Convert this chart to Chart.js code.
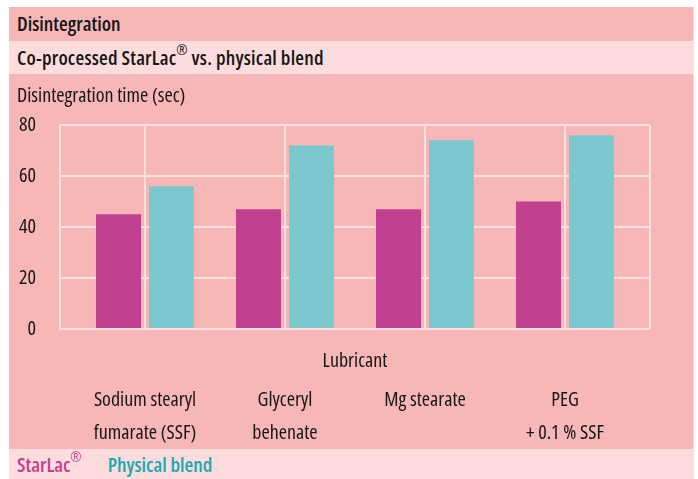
<!DOCTYPE html>
<html>
<head>
<meta charset="utf-8">
<script src="https://cdn.jsdelivr.net/npm/chart.js@4/dist/chart.umd.min.js"></script>
<style>
html,body{margin:0;padding:0;background:#ffffff;width:698px;height:479px;overflow:hidden;}
#wrap{position:absolute;left:9px;top:7px;width:684px;height:472px;background:#f7b7b7;border-right:1px solid #fcdcdc;
  font-family:'Open Sans',sans-serif;font-stretch:condensed;color:#161616;}
.band{position:absolute;left:0;width:684px;box-sizing:border-box;padding-left:8px;white-space:nowrap;}
#b1{top:0;height:34px;line-height:34px;font-size:20px;font-weight:600;background:#f7b7b7;}
#b2{top:34px;height:33px;line-height:33px;font-size:20px;font-weight:600;letter-spacing:0.2px;background:#fcdcdd;}
#ytitle{top:76px;height:24px;line-height:24px;font-size:20px;}
#leg{top:442px;height:30px;line-height:31px;font-size:20px;font-weight:600;background:#fcdcdd;}
#leg span{margin-right:26px;}
sup{font-size:68%;line-height:0;position:relative;top:-2px;font-weight:400;}
canvas{position:absolute;left:0;top:67px;}
</style>
</head>
<body>
<div id="wrap">
  <div class="band" id="b1">Disintegration</div>
  <div class="band" id="b2">Co-processed StarLac<sup>®</sup> vs. physical blend</div>
  <canvas id="c" width="684" height="375"></canvas>
  <div class="band" id="ytitle"></div>
  <div class="band" id="leg"></div>
</div>
<script>
// ---- data ----
const categories = [
  ['Sodium stearyl', 'fumarate (SSF)'],
  ['Glyceryl', 'behenate'],
  ['Mg stearate'],
  ['PEG', '+ 0.1 % SSF']
];
const seriesNames = ['StarLac®', 'Physical blend'];
const starlacValues = [45, 47, 47, 50];
const physicalBlendValues = [56, 72, 74, 76];
const yTicks = [0, 20, 40, 60, 80];
const yTitle = 'Disintegration time (sec)';
const xTitle = 'Lubricant';

// ---- styles ----
const barColors = ['#c24090', '#7bc8cf'];
const legendColors = ['#c24090', '#19a9b4'];
const FAMILY = "'Open Sans', sans-serif";
const TEXT = '#161616';
const gridColor = '#fde1e1';
const xMin = -0.607, xMax = categories.length - 1 + 0.607;

document.getElementById('ytitle').textContent = yTitle;
const leg = document.getElementById('leg');
seriesNames.forEach((n, i) => {
  const s = document.createElement('span');
  s.style.color = legendColors[i];
  s.innerHTML = n.replace('®', '<sup>®</sup>');
  leg.appendChild(s);
});

const toPoints = vals => vals.map((v, i) => ({x: i, y: v}));
const font = (extra) => Object.assign({family: FAMILY, size: 20, weight: 'condensed', lineHeight: 1.2}, extra || {});

new Chart(document.getElementById('c'), {
  type: 'bar',
  data: {
    datasets: [
      {label: seriesNames[0], data: toPoints(starlacValues), backgroundColor: barColors[0], borderWidth: 0, xAxisID: 'x'},
      {label: seriesNames[1], data: toPoints(physicalBlendValues), backgroundColor: barColors[1], borderWidth: 0, xAxisID: 'x'}
    ]
  },
  options: {
    responsive: false,
    animation: false,
    devicePixelRatio: 1,
    categoryPercentage: 0.757,
    barPercentage: 0.849,
    layout: {padding: {left: 0, right: 43, top: 51, bottom: 0}},
    plugins: {legend: {display: false}, tooltip: {enabled: false}, title: {display: false}},
    scales: {
      x: {
        type: 'linear', position: 'bottom', weight: 1, offset: false,
        min: xMin, max: xMax,
        afterBuildTicks: s => { s.ticks = categories.map((c, i) => ({value: i})); },
        afterFit: s => { s.height = 76; },
        grid: {color: gridColor, lineWidth: 2, drawTicks: false, offset: false},
        border: {display: false},
        ticks: {
          autoSkip: false, maxRotation: 0, minRotation: 0, padding: 10.5, color: TEXT,
          font: font({lineHeight: 1.65}),
          callback: v => categories[v] || ''
        }
      },
      x2: {
        type: 'linear', position: 'bottom', weight: 0, offset: false,
        min: xMin, max: xMax,
        afterBuildTicks: s => { s.ticks = [{value: xMin}, {value: xMax}]; },
        afterFit: s => { s.height = 44; },
        grid: {color: gridColor, lineWidth: 2, drawTicks: false, offset: false},
        border: {display: false},
        ticks: {display: false},
        title: {display: true, text: xTitle, color: TEXT, padding: 0, font: font()}
      },
      y: {
        min: 0, max: 80,
        afterBuildTicks: s => { s.ticks = yTicks.map(v => ({value: v})); },
        afterFit: s => { s.width = 51; },
        grid: {color: gridColor, lineWidth: 2, drawTicks: false},
        border: {display: false},
        ticks: {padding: 24, color: TEXT, font: font()}
      }
    }
  }
});
</script>
</body>
</html>
